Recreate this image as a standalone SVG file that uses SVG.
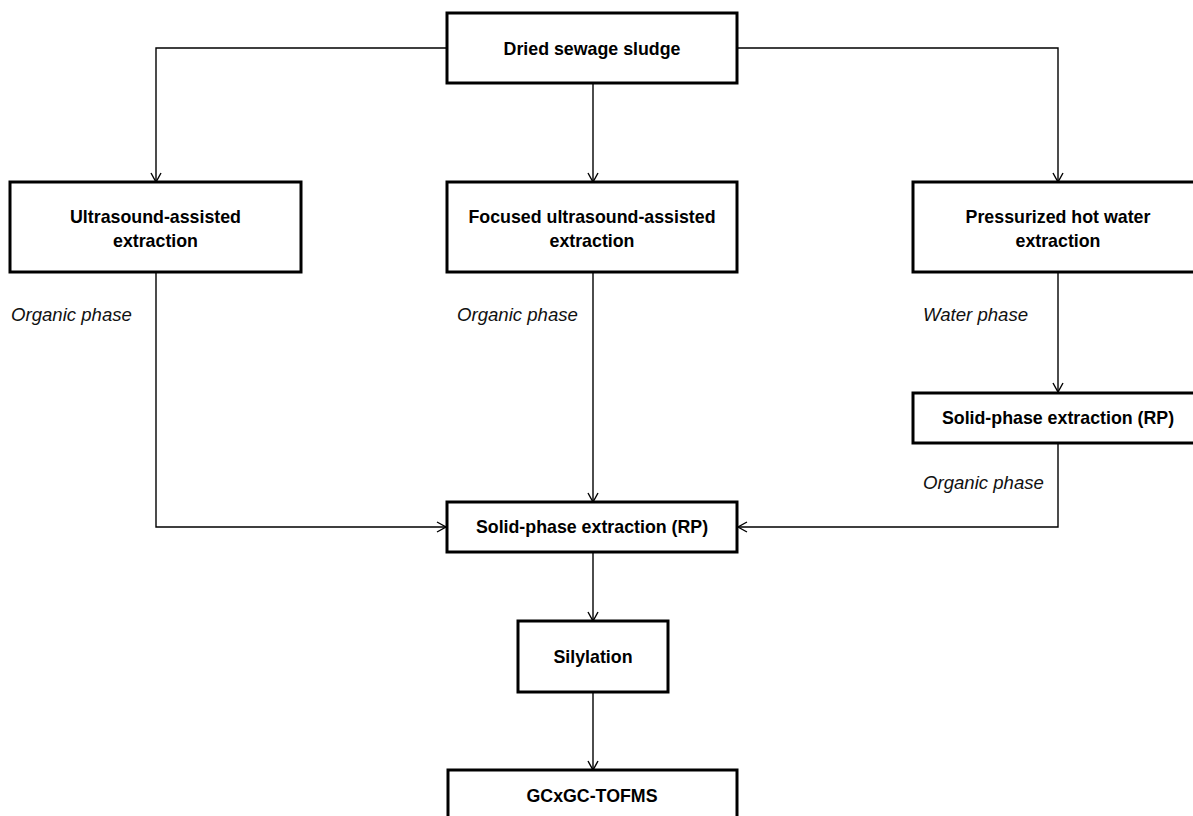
<svg xmlns="http://www.w3.org/2000/svg" width="1193" height="816" viewBox="0 0 1193 816">
<defs>
<marker id="arr" markerWidth="12" markerHeight="12" refX="10" refY="6" orient="auto" markerUnits="userSpaceOnUse">
<path d="M1,1 L10,6 L1,11" fill="none" stroke="#000" stroke-width="1.4"/>
</marker>
<style>
.box{fill:#fff;stroke:#000;stroke-width:3}
.t{font-family:"Liberation Sans",Arial,sans-serif;font-weight:bold;font-size:17.8px;text-anchor:middle;fill:#000}
.lbl{font-family:"Liberation Sans",Arial,sans-serif;font-style:italic;font-size:18.6px;fill:#111}
.c{fill:none;stroke:#000;stroke-width:1.4;marker-end:url(#arr)}
</style>
</defs>
<rect width="1193" height="816" fill="#fff"/>
<g id="connectors">
<path class="c" d="M447,48 H156 V182"/>
<path class="c" d="M593,83 V182"/>
<path class="c" d="M737,48 H1058 V182"/>
<path class="c" d="M156,272 V527 H446"/>
<path class="c" d="M593,272 V502"/>
<path class="c" d="M1058,272 V392"/>
<path class="c" d="M1058,443 V527 H738"/>
<path class="c" d="M593,552 V621"/>
<path class="c" d="M593,692 V770"/>
</g>
<g id="n-dried"><rect class="box" x="447" y="13" width="290" height="70"/><text class="t" x="592" y="55">Dried sewage sludge</text></g>
<g id="n-uae"><rect class="box" x="10" y="182" width="291" height="90"/><text class="t" x="155.5" y="223">Ultrasound-assisted</text><text class="t" x="155.5" y="247">extraction</text></g>
<g id="n-fuae"><rect class="box" x="447" y="182" width="290" height="90"/><text class="t" x="592" y="223">Focused ultrasound-assisted</text><text class="t" x="592" y="247">extraction</text></g>
<g id="n-phwe"><rect class="box" x="913" y="182" width="290" height="90"/><text class="t" x="1058" y="223">Pressurized hot water</text><text class="t" x="1058" y="247">extraction</text></g>
<g id="n-spe2"><rect class="box" x="913" y="393" width="290" height="50"/><text class="t" x="1058" y="424">Solid-phase extraction (RP)</text></g>
<g id="n-spe"><rect class="box" x="447" y="502" width="290" height="50"/><text class="t" x="592" y="533">Solid-phase extraction (RP)</text></g>
<g id="n-sil"><rect class="box" x="518" y="621" width="150" height="71"/><text class="t" x="593" y="663">Silylation</text></g>
<g id="n-gc"><rect class="box" x="448" y="770" width="289" height="60"/><text class="t" x="592" y="802">GCxGC-TOFMS</text></g>
<g id="labels">
<text class="lbl" x="11" y="321">Organic phase</text>
<text class="lbl" x="457" y="321">Organic phase</text>
<text class="lbl" x="923" y="321">Water phase</text>
<text class="lbl" x="923" y="489">Organic phase</text>
</g>
</svg>
